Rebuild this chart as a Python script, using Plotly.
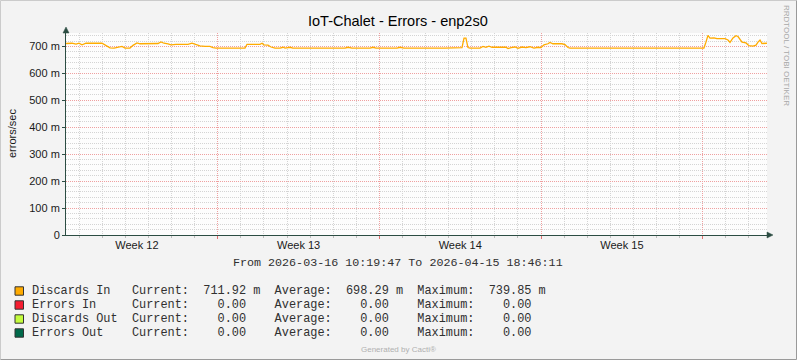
import pandas as pd
import plotly.graph_objects as go

# ---------------- data ----------------
START = "2026-03-16 10:19:47"
END = "2026-04-15 18:46:11"

# hours after START, and Discards In (milli errors/sec)
hours = [0, 6.2, 10.4, 13.5, 16.6, 20.8, 37.4, 41.6, 45.7, 49.9, 54.0, 58.2, 61.3, 66.5,
         69.6, 73.8, 76.9, 83.1, 87.3, 95.6, 98.7, 101.8, 106.0, 109.1, 114.3, 126.8,
         130.9, 135.1, 139.2, 144.4, 149.6, 152.7, 155.9, 186.0, 188.1, 201.6, 203.7,
         205.7, 209.9, 213.0, 217.2, 222.4, 225.5, 227.6, 232.8, 235.9, 263.9, 289.9,
         293.0, 297.2, 315.9, 319.0, 322.1, 326.3, 331.5, 343.9, 347.1, 351.2, 383.4,
         388.6, 393.8, 411.5, 413.6, 415.6, 417.7, 419.8, 430.2, 433.3, 436.4, 439.5,
         442.7, 457.2, 459.3, 462.4, 466.6, 469.7, 473.8, 478.0, 482.1, 486.3, 490.5,
         493.6, 496.7, 500.8, 502.9, 506.0, 515.4, 518.5, 521.6, 523.7, 554.9, 596.4,
         662.9, 665.0, 667.1, 669.2, 673.3, 676.4, 679.6, 684.8, 687.9, 690.0, 693.1,
         696.2, 698.3, 700.4, 702.5, 706.6, 709.7, 713.9, 717.0, 719.1, 721.2, 723.2,
         726.3, 728.4]
discards_in_m = [711, 712, 709, 712, 706, 712, 712, 703, 695, 694, 698, 700, 694, 694,
                 704, 713, 710, 710, 712, 711, 717, 712, 710, 706, 708, 708,
                 712, 706, 702, 700, 700, 696, 694, 694, 708, 708, 712,
                 706, 705, 698, 694, 694, 697, 694, 697, 694, 694, 694,
                 697, 694, 694, 697, 694, 693, 694, 694, 697, 694, 694,
                 692, 694, 696, 731, 731, 696, 694, 694, 700, 697, 701,
                 697, 697, 692, 696, 698, 693, 698, 696, 699, 694, 697,
                 696, 706, 710, 715, 710, 710, 707, 696, 694, 694, 694,
                 694, 716, 741, 731, 732, 729, 728, 729, 724, 715, 732,
                 740, 737, 728, 716, 713, 703, 701, 705, 716, 724, 711,
                 710, 712]

y_tickvals = [0, 0.1, 0.2, 0.3, 0.4, 0.5, 0.6, 0.7]
y_ticktext = ["0", "100 m", "200 m", "300 m", "400 m", "500 m", "600 m", "700 m"]

legend_names = ["Discards In", "Errors In", "Discards Out", "Errors Out"]
legend_colors = ["#FFAB00", "#F51D30", "#C4FD3D", "#00694A"]
current_m = [711.92, 0.0, 0.0, 0.0]
average_m = [698.29, 0.0, 0.0, 0.0]
maximum_m = [739.85, 0.0, 0.0, 0.0]

TITLE = "IoT-Chalet - Errors - enp2s0"
Y_TITLE = "errors/sec"

# ---------------- geometry helpers ----------------
W, H = 797, 360
L, R, T, B = 66, 30, 33, 125
PW, PH = W - L - R, H - T - B


def px(x):
    return (x - L) / PW


def py(y):
    return (H - B - y) / PH


t0 = pd.Timestamp(START)
times = [t0 + pd.Timedelta(hours=h) for h in hours]
yvals = [v / 1000 for v in discards_in_m]

AXIS = "#2C4D43"
MGRID = "#EFA0A0"
GRID = "#D4D4D4"
TXT = "#1A1A1A"
MONO_TXT = "#303030"

fig = go.Figure()
fig.add_trace(go.Scatter(x=times, y=yvals, mode="lines",
                         line=dict(color=legend_colors[0], width=1.3),
                         name=legend_names[0], hoverinfo="skip", showlegend=False))

fig.update_layout(
    width=W, height=H,
    margin=dict(l=L, r=R, t=T, b=B, pad=0),
    paper_bgcolor="#F3F3F3",
    plot_bgcolor="#FDFDFD",
    showlegend=False,
    font=dict(family="Liberation Sans", size=11, color=TXT),
)

fig.update_xaxes(
    type="date",
    range=[START, END],
    tick0="2026-03-16", dtick=7 * 86400000,
    tickformat="Week %V", ticklabelmode="period",
    showgrid=True, gridcolor=MGRID, griddash="1px,1px", gridwidth=1,
    ticks="outside", ticklen=3, tickcolor="#E07070",
    ticklabelstandoff=-3,
    minor=dict(tick0="2026-03-16", dtick=86400000, showgrid=True, gridcolor=GRID,
               griddash="1px,1px", ticks="outside", ticklen=2, tickcolor="#BBBBBB"),
    showline=True, linecolor=AXIS, linewidth=1, zeroline=False,
    tickfont=dict(size=11, color=TXT),
    fixedrange=True,
)
fig.update_yaxes(
    range=[0, 0.75],
    tickmode="array", tickvals=y_tickvals, ticktext=y_ticktext,
    showgrid=True, gridcolor=MGRID, griddash="1px,1px", gridwidth=1,
    ticks="outside", ticklen=3, tickcolor=AXIS,
    minor=dict(tick0=0, dtick=0.02, showgrid=True, gridcolor=GRID,
               griddash="1px,1px", ticks=""),
    showline=True, linecolor=AXIS, linewidth=1, zeroline=False,
    tickfont=dict(size=11, color=TXT),
    fixedrange=True,
)

shapes = []
# axis arrows
shapes.append(dict(type="path", xref="paper", yref="paper", xsizemode="pixel", ysizemode="pixel",
                   xanchor=0, yanchor=1, path="M -3,0 L 3,0 L 0,6 Z",
                   fillcolor=AXIS, line=dict(color=AXIS, width=0.5)))
shapes.append(dict(type="path", xref="paper", yref="paper", xsizemode="pixel", ysizemode="pixel",
                   xanchor=1, yanchor=0, path="M 0,-3 L 0,3 L 6,0 Z",
                   fillcolor=AXIS, line=dict(color=AXIS, width=0.5)))
# image border
shapes.append(dict(type="line", xref="paper", yref="paper", x0=px(0.5), x1=px(796.5),
                   y0=py(0.5), y1=py(0.5), line=dict(color="#CBCBCB", width=1)))
shapes.append(dict(type="line", xref="paper", yref="paper", x0=px(0.5), x1=px(0.5),
                   y0=py(0.5), y1=py(359.5), line=dict(color="#CBCBCB", width=1)))
shapes.append(dict(type="line", xref="paper", yref="paper", x0=px(0.5), x1=px(796.5),
                   y0=py(359.5), y1=py(359.5), line=dict(color="#999999", width=1)))
shapes.append(dict(type="line", xref="paper", yref="paper", x0=px(796.5), x1=px(796.5),
                   y0=py(0.5), y1=py(359.5), line=dict(color="#999999", width=1)))

annotations = []
annotations.append(dict(text=TITLE, xref="paper", yref="paper", x=px(398), y=py(21),
                        xanchor="center", yanchor="middle", showarrow=False,
                        font=dict(family="Liberation Sans", size=14.5, color="#000000")))
annotations.append(dict(text=Y_TITLE, xref="paper", yref="paper", x=px(12), y=py(134),
                        xanchor="center", yanchor="middle", showarrow=False, textangle=-90,
                        font=dict(family="Liberation Sans", size=11, color=TXT)))
annotations.append(dict(text="RRDTOOL / TOBI OETIKER", xref="paper", yref="paper", x=px(787), y=py(56),
                        xanchor="center", yanchor="middle", showarrow=False, textangle=90,
                        font=dict(family="Liberation Sans", size=8, color="#A8A8A8")))
from_to = "From %s To %s" % (START, END)
annotations.append(dict(text=from_to.replace(" ", "\u00a0"), xref="paper", yref="paper",
                        x=px(398), y=py(263), xanchor="center", yanchor="middle", showarrow=False,
                        font=dict(family="Liberation Mono", size=11.7, color=MONO_TXT)))


def fmt(v):
    return ("%.2f m" % v) if v != 0 else ("%.2f  " % v)


row_y = [291, 305, 319, 333]
for i, name in enumerate(legend_names):
    line = "%-14sCurrent:%10s  Average:%10s  Maximum:%10s" % (
        name, fmt(current_m[i]), fmt(average_m[i]), fmt(maximum_m[i]))
    annotations.append(dict(text=line.replace(" ", "\u00a0"), xref="paper", yref="paper",
                            x=px(30), y=py(row_y[i]), xanchor="left", yanchor="middle",
                            showarrow=False,
                            font=dict(family="Liberation Mono", size=11.9, color=MONO_TXT)))
    shapes.append(dict(type="rect", xref="paper", yref="paper",
                       x0=px(15), x1=px(23.5), y0=py(row_y[i] - 4.2), y1=py(row_y[i] + 4.2),
                       fillcolor=legend_colors[i], line=dict(color="#333333", width=1)))

annotations.append(dict(text="Generated by Cacti®", xref="paper", yref="paper", x=px(398), y=py(349),
                        xanchor="center", yanchor="middle", showarrow=False,
                        font=dict(family="Liberation Sans", size=8, color="#B0B0B0")))

fig.update_layout(shapes=shapes, annotations=annotations)
fig.write_html("out.html", config={"displayModeBar": False},
               post_script="document.body.style.margin='0';document.body.style.padding='0';")
